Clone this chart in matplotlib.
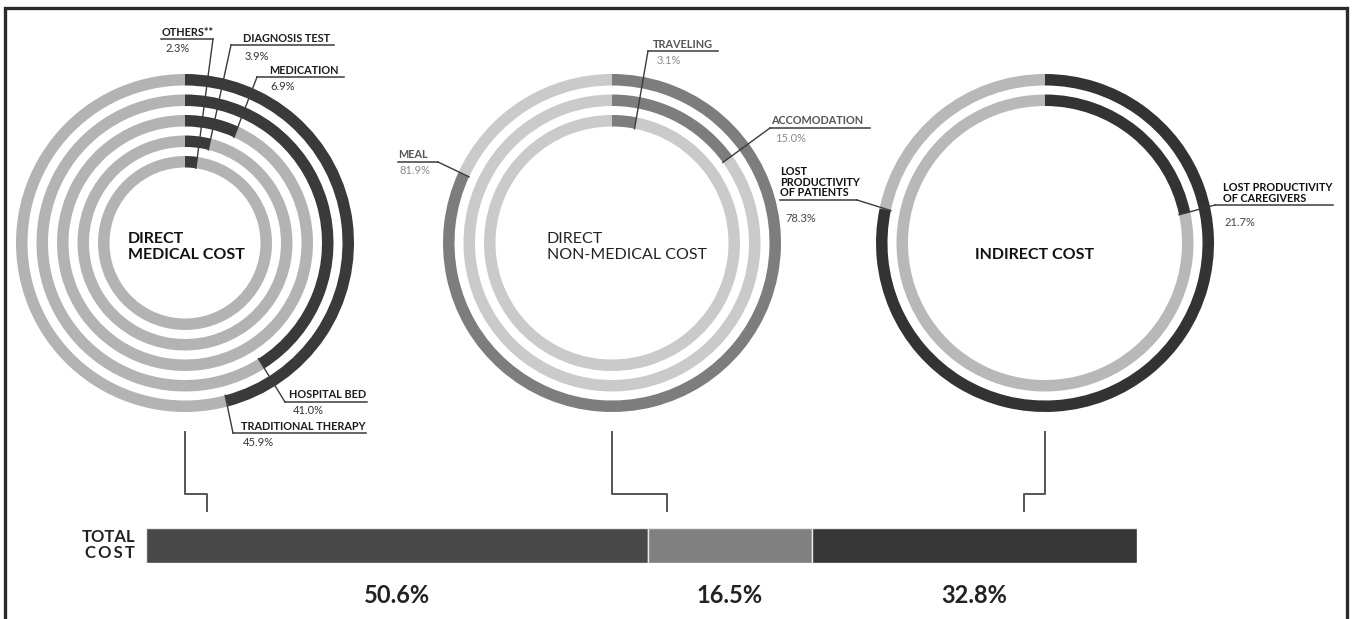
import numpy as np
import matplotlib
matplotlib.use("Agg")
import matplotlib.pyplot as plt
from matplotlib.patches import Wedge

plt.rcParams['font.family'] = ['Lato', 'DejaVu Sans']

# ── data ──
medical_labels = ["TRADITIONAL THERAPY", "HOSPITAL BED", "MEDICATION", "DIAGNOSIS TEST", "OTHERS**"]
medical_pct = [45.9, 41.0, 6.9, 3.9, 2.3]

nonmed_labels = ["MEAL", "ACCOMODATION", "TRAVELING"]
nonmed_pct = [81.9, 15.0, 3.1]

indirect_labels = ["LOST\nPRODUCTIVITY\nOF PATIENTS", "LOST PRODUCTIVITY\nOF CAREGIVERS"]
indirect_pct = [78.3, 21.7]

total_groups = ["DIRECT\nMEDICAL COST", "DIRECT\nNON-MEDICAL COST", "INDIRECT COST"]
total_pct = [50.6, 16.5, 32.8]

# ── layout (pixel coordinates) ──
W, H = 1352, 619
centers = [(185, 243), (612, 243), (1045, 243)]
R_OUT, RING_W, STEP = 169, 11.5, 20.5

# per label: text x, underline y, underline x0, x1, attach x, pct x, pct y
medical_layout = [
    (241, 433, 233, 366, 233, 243, 443),
    (289, 402, 285, 367, 285, 293, 411),
    (269, 77, 257, 344, 257, 270, 87),
    (243, 45, 231, 334, 231, 245, 56),
    (162, 39, 161, 213, 213, 166, 48),
]
nonmed_layout = [
    (398, 162, 398, 438, 438, 400, 171),
    (771, 128, 770, 870, 770, 775, 138),
    (653, 51, 648, 718, 648, 657, 61),
]
indirect_layout = [
    (780, 200, 780, 857, 857, 785, 219),
    (1223, 205, 1215, 1333, 1215, 1225, 222),
]

fig = plt.figure(figsize=(W / 100, H / 100), dpi=100)
ax = fig.add_axes([0, 0, 1, 1])
ax.set_xlim(0, W)
ax.set_ylim(H, 0)
ax.axis('off')


def draw_rings(center, pcts, dark, light):
    cx, cy = center
    ends = []
    for i, p in enumerate(pcts):
        r = R_OUT - i * STEP
        ang = p / 100 * 360
        ax.add_patch(Wedge((cx, cy), r, -90, -90 + ang, width=RING_W, color=dark, lw=0))
        ax.add_patch(Wedge((cx, cy), r, -90 + ang, 270, width=RING_W, color=light, lw=0))
        ri = r - RING_W
        ends.append((cx + ri * np.sin(np.radians(ang)), cy - ri * np.cos(np.radians(ang))))
    return ends


def draw_labels(ends, labels, pcts, layout, lab_col, pct_col):
    for (ex, ey), lab, p, (tx, uy, x0, x1, ax_, px, py) in zip(ends, labels, pcts, layout):
        ax.plot([x0, x1], [uy, uy], color='#3a3a3a', lw=1.1)
        ax.plot([ex, ax_], [ey, uy], color='#3a3a3a', lw=1.0)
        ax.text(tx, uy - 1.5, lab, ha='left', va='bottom', fontsize=7.8, fontweight='bold',
                color=lab_col, linespacing=0.95)
        ax.text(px, py, f"{p:.1f}%", ha='left', va='center', fontsize=8, color=pct_col)


ends1 = draw_rings(centers[0], medical_pct, '#3a3a3a', '#b3b3b3')
draw_labels(ends1, medical_labels, medical_pct, medical_layout, '#1e1e1e', '#333333')

ends2 = draw_rings(centers[1], nonmed_pct, '#7d7d7d', '#cacaca')
draw_labels(ends2, nonmed_labels, nonmed_pct, nonmed_layout, '#555555', '#8a8a8a')

ends3 = draw_rings(centers[2], indirect_pct, '#333333', '#b8b8b8')
draw_labels(ends3, indirect_labels, indirect_pct, indirect_layout, '#111111', '#444444')

# circle titles
ax.text(128, 247, total_groups[0], ha='left', va='center', fontsize=11.5, fontweight='bold',
        color='#111111', linespacing=1.15)
ax.text(547, 247, total_groups[1], ha='left', va='center', fontsize=11.5,
        color='#222222', linespacing=1.15)
ax.text(1035, 255, total_groups[2], ha='center', va='center', fontsize=11.5, fontweight='bold',
        color='#111111')

# brackets from circles down to the bar
for (cx, _), bx in zip(centers, [207, 667, 1024]):
    ax.plot([cx, cx, bx, bx], [432, 494, 494, 511], color='#555555', lw=1.4)

# frame
ax.plot([5, 5, 1347, 1347], [H, 8, 8, H], color='#2a2a2a', lw=2.4, solid_joinstyle='miter')

# ── total cost bar ──
bar_x0, bar_x1, bar_top, bar_bot = 146, 1137, 528, 563
bax = fig.add_axes([bar_x0 / W, 1 - bar_bot / H, (bar_x1 - bar_x0) / W, (bar_bot - bar_top) / H])
bax.set_xlim(0, sum(total_pct))
bax.set_ylim(0, 1)
bax.axis('off')
bar_colors = ['#484848', '#808080', '#363636']
lefts = np.concatenate([[0], np.cumsum(total_pct)[:-1]])
bax.barh(0.5, total_pct, left=lefts, height=1.0, color=bar_colors, edgecolor='#e8e8e8', lw=1)
for l, p in zip(lefts, total_pct):
    bax.text(l + p / 2, -0.92, f"{p:.1f}%", ha='center', va='center', fontsize=17,
             fontweight='bold', color='#222222', transform=bax.get_xaxis_transform())

ax.text(135, 537, "TOTAL", ha='right', va='center', fontsize=12, fontweight='bold', color='#222222')
ax.text(135, 553, "C\u2009O\u2009S\u2009T", ha='right', va='center', fontsize=12,
        fontweight='bold', color='#222222')

fig.savefig("out.png", dpi=100, facecolor='white')
